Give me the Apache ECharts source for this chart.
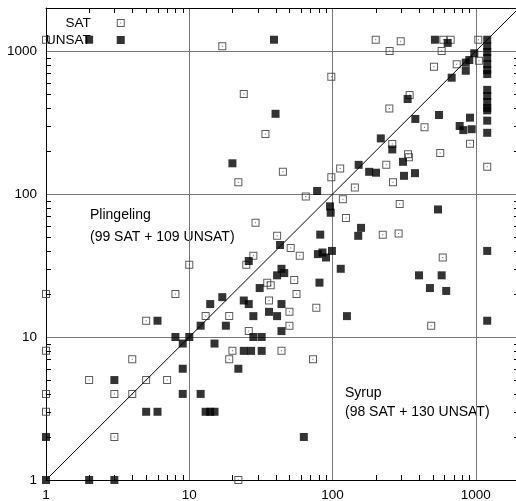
<!DOCTYPE html>
<html>
<head>
<meta charset="utf-8">
<script src="https://cdn.jsdelivr.net/npm/echarts@6/dist/echarts.min.js"></script>
<style>
  html, body { margin: 0; padding: 0; overflow: hidden; background: #fff; }
  #chart { width: 520px; height: 501px; }
</style>
</head>
<body>
<div id="chart"></div>
<script>
// x = Plingeling runtime (s), y = Syrup runtime (s), 1200 = timeout
const satRuns = [
  [1, 1200], [17, 1080], [98, 660], [24, 500], [34, 263], [45, 143], [113, 151], [200, 1200],
  [299, 1170], [250, 1000], [593, 1200], [667, 1200], [577, 1000], [1040, 1200], [1050, 855],
  [735, 807], [510, 777], [345, 493], [249, 397], [438, 293], [261, 224], [910, 225], [564, 194],
  [336, 190], [341, 181], [237, 160], [1200, 155], [264, 121], [143, 111], [22, 121], [98, 131],
  [65, 96], [118, 92], [294, 85], [124, 68], [29, 63], [41, 51], [224, 52], [289, 53], [51, 42],
  [59, 37], [28, 37], [587, 36], [25, 32], [10, 32], [54, 25], [35, 24], [37, 23], [8, 20],
  [56, 20], [1, 20], [36, 18], [77, 16], [50, 15], [13, 14], [19, 14], [50, 12], [488, 12],
  [26, 11], [20, 8], [44, 8], [19, 7], [73, 7], [5, 13], [1, 8], [1, 4], [1, 3], [2, 5], [3, 4],
  [4, 4], [4, 7], [5, 5], [7, 5], [3, 2], [22, 1]
]
const unsatRuns = [
  [2, 1200], [39, 1200], [40, 364], [20, 164], [152, 160], [518, 1200], [636, 1140], [975, 965],
  [900, 865], [850, 830], [850, 728], [678, 651], [334, 462], [378, 335], [553, 357], [910, 342],
  [771, 299], [817, 280], [935, 284], [217, 245], [261, 205], [310, 168], [180, 143], [201, 141],
  [315, 134], [376, 140], [78, 105], [96, 82], [97, 74], [544, 78], [158, 58], [151, 51], [82, 52],
  [43, 44], [79, 38], [85, 39], [90, 36], [99, 40], [114, 30], [26, 34], [44, 30], [41, 27],
  [46, 28], [81, 24], [31, 22], [17, 19], [14, 17], [24, 18], [26, 17], [44, 17], [36, 15],
  [41, 14], [28, 14], [12, 12], [18, 12], [44, 11], [8, 10], [10, 10], [28, 10], [32, 10], [9, 9],
  [15, 9], [24, 8], [27, 8], [32, 8], [22, 6], [9, 6], [9, 4], [12, 4], [13, 3], [14, 3], [15, 3],
  [63, 2], [401, 27], [577, 27], [478, 22], [621, 21], [126, 14], [1200, 40], [1200, 13], [6, 13],
  [3, 5], [5, 3], [6, 3], [1, 2], [1, 1], [2, 1], [3, 1],
  [1200, 1200], [1200, 1080], [1200, 985], [1200, 895], [1200, 810], [1200, 735], [1200, 690],
  [1200, 535], [1200, 485], [1200, 440], [1200, 400], [1200, 385], [1200, 326], [1200, 268]
]
const diagonal = [[1, 1], [2000, 2000]]
const decadeTicks = [1, 10, 100, 1000]
const minorSteps = [2, 3, 4, 5, 6, 7, 8, 9]
const axisMin = 1
const axisMax = 2000

// minor tick positions (2..9, 20..90, 200..900) drawn as a custom series on all four sides
const tickValues = []
decadeTicks.forEach(d => minorSteps.forEach(m => {
  if (d * m < axisMax) tickValues.push([d * m, d * m])
}))

const font = "'Liberation Sans', Arial, sans-serif"
const openBox = 'path://M0,0H8V8H0Z M1,1V7H7V1Z M3.5,3.5H4.5V4.5H3.5Z'
const tickLen = 5

// main axis: carries the data, labels and the decade grid lines
const mainAxis = position => ({
  type: 'log',
  logBase: 10,
  min: axisMin,
  max: axisMax,
  position,
  axisLine: { show: true, onZero: false, lineStyle: { color: '#000', width: 1 } },
  axisTick: { show: false },
  axisLabel: {
    show: true,
    color: '#000',
    fontSize: 13.5,
    fontFamily: font,
    margin: position === 'left' ? 9 : 8,
    formatter: v => decadeTicks.includes(Math.round(v)) ? String(Math.round(v)) : ''
  },
  splitLine: { show: true, lineStyle: { color: '#777', width: 1 } }
})

// top / right frame lines
const frameAxis = position => ({
  type: 'value',
  min: 0,
  max: 1,
  position,
  axisLine: { show: true, onZero: false, lineStyle: { color: '#000', width: 1 } },
  axisTick: { show: false },
  axisLabel: { show: false },
  splitLine: { show: false }
})

// snap to the pixel grid so 1px ticks stay crisp
const crisp = v => Math.round(v) + 0.5

const renderTicks = (params, api) => {
  const v = api.value(0)
  const [xL, yB] = api.coord([axisMin, axisMin])
  const [xR, yT] = api.coord([axisMax, axisMax])
  const x = crisp(api.coord([v, axisMin])[0])
  const y = crisp(api.coord([axisMin, v])[1])
  const style = { stroke: '#000', lineWidth: 1, fill: null }
  return {
    type: 'group',
    children: [
      { type: 'line', shape: { x1: x, y1: yB, x2: x, y2: yB - tickLen }, style },
      { type: 'line', shape: { x1: x, y1: yT, x2: x, y2: yT + tickLen }, style },
      { type: 'line', shape: { x1: xL, y1: y, x2: xL + tickLen, y2: y }, style },
      { type: 'line', shape: { x1: xR, y1: y, x2: xR - tickLen, y2: y }, style }
    ]
  }
}

const chart = echarts.init(document.getElementById('chart'), null, { renderer: 'canvas' })
chart.setOption({
  animation: false,
  backgroundColor: '#fff',
  grid: { left: 46, right: 1, top: 8, bottom: 21, outerBoundsMode: 'none', containLabel: false },
  xAxis: [mainAxis('bottom'), frameAxis('top')],
  yAxis: [mainAxis('left'), frameAxis('right')],
  legend: {
    orient: 'vertical',
    align: 'right',
    left: 46,
    top: 16,
    padding: 0,
    itemGap: 3,
    itemWidth: 8,
    itemHeight: 8,
    selectedMode: false,
    data: ['SAT', 'UNSAT'],
    textStyle: { color: '#000', fontSize: 13.5, fontFamily: font, lineHeight: 14, padding: [0, 21, 0, 0] }
  },
  graphic: [
    { type: 'text', x: 90, y: 215, style: { text: 'Plingeling', font: '14px ' + font, fill: '#000', verticalAlign: 'middle' } },
    { type: 'text', x: 90, y: 237, style: { text: '(99 SAT + 109 UNSAT)', font: '14px ' + font, fill: '#000', verticalAlign: 'middle' } },
    { type: 'text', x: 345, y: 393, style: { text: 'Syrup', font: '14px ' + font, fill: '#000', verticalAlign: 'middle' } },
    { type: 'text', x: 345, y: 412, style: { text: '(98 SAT + 130 UNSAT)', font: '14px ' + font, fill: '#000', verticalAlign: 'middle' } }
  ],
  series: [
    { name: 'ticks', type: 'custom', data: tickValues, renderItem: renderTicks, silent: true, clip: false, z: 5 },
    { name: 'y=x', type: 'line', data: diagonal, showSymbol: false, silent: true, lineStyle: { color: '#000', width: 1 } },
    { name: 'SAT', type: 'scatter', data: satRuns, symbol: openBox, symbolSize: 8, itemStyle: { color: '#333' } },
    { name: 'UNSAT', type: 'scatter', data: unsatRuns, symbol: 'rect', symbolSize: 8, itemStyle: { color: '#000' } }
  ]
})
</script>
</body>
</html>
